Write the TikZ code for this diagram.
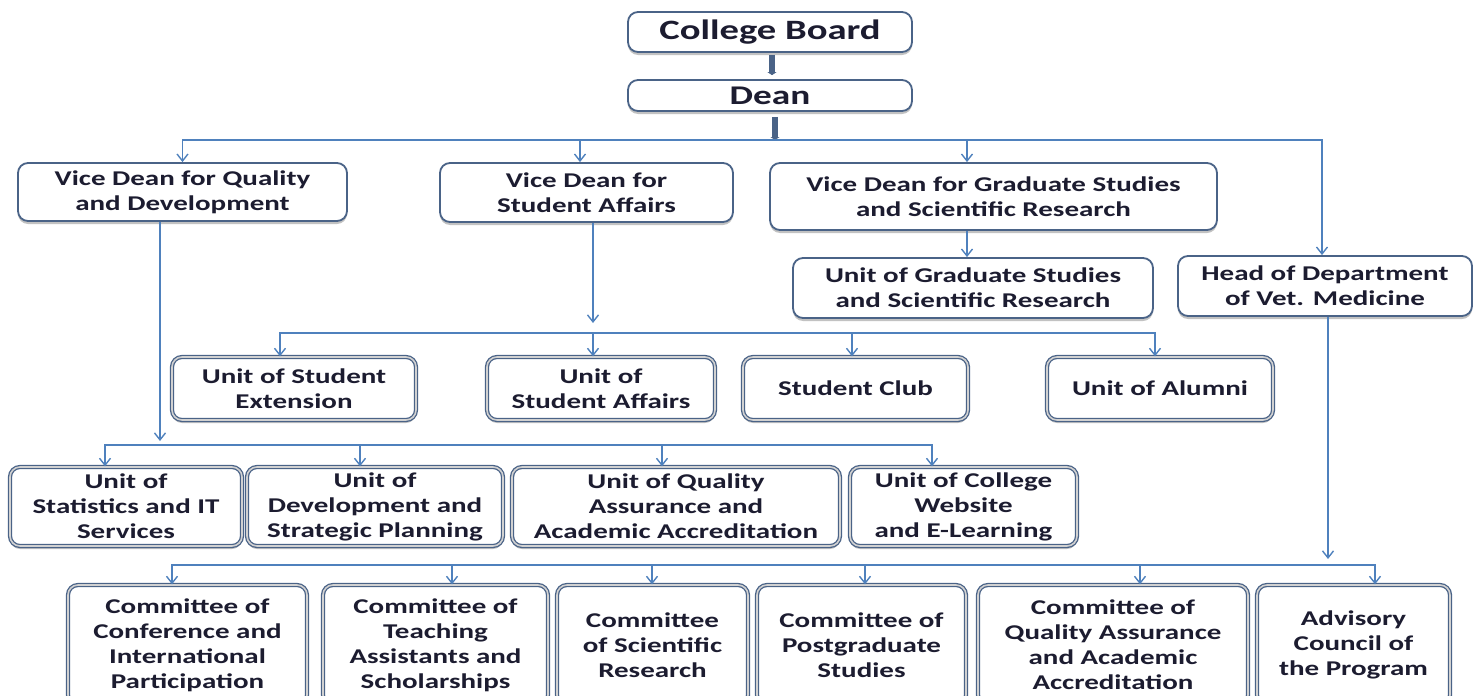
\documentclass[tikz,border=0pt]{standalone}
\usepackage{fontspec}
\setmainfont{Carlito}[FakeStretch=1.38]
\usetikzlibrary{arrows.meta,shadows}
\definecolor{arrblue}{HTML}{4F81BD}
\definecolor{boxline}{HTML}{4A6387}
\definecolor{txt}{HTML}{1C1C30}
\tikzset{
 box/.style={draw=boxline, line width=1.8pt, rounded corners=10pt, fill=white, align=center, text=txt,
   font=\bfseries\fontsize{21}{25}\selectfont, inner sep=0pt,
   drop shadow={shadow xshift=0pt, shadow yshift=-3pt, fill=black!40, opacity=0.6}},
 dbox/.style={box, double=black!18, double distance=1.6pt, line width=1.3pt},
 conn/.style={draw=arrblue, line width=1.6pt},
 arr/.style={conn, -{Straight Barb[length=7pt,width=11pt,line width=1.4pt]}},
 stub/.style={draw=boxline, line width=6pt, -{Triangle[length=3pt,width=9pt]}},
}
\begin{document}
\begin{tikzpicture}[x=1pt,y=-1pt]
\useasboundingbox (0,0) rectangle (1478,696);
\clip (0,0) rectangle (1478,696);
% top
\node[box, minimum width=284pt, minimum height=40pt, font=\bfseries\fontsize{28}{30}\selectfont] (cb) at (770,32) {College Board};
\node[box, minimum width=284pt, minimum height=31pt, font=\bfseries\fontsize{27}{29}\selectfont] (dean) at (770,95.5) {Dean};
% vice deans
\node[box, minimum width=329pt, minimum height=58pt] (vdq) at (182.5,192) {Vice Dean for Quality\\and Development};
\node[box, minimum width=293pt, minimum height=59pt] (vds) at (586.5,192.5) {Vice Dean for\\Student Affairs};
\node[box, minimum width=447pt, minimum height=67pt] (vdg) at (993.5,196.5) {Vice Dean for Graduate Studies\\and Scientific Research};
\node[box, minimum width=360pt, minimum height=60pt] (ugs) at (973,288) {Unit of Graduate Studies\\and Scientific Research};
\node[box, minimum width=294pt, minimum height=60pt] (hod) at (1325,286) {Head of Department\\of Vet. Medicine};
% student row
\node[dbox, minimum width=244pt, minimum height=63pt] (use) at (294,388.5) {Unit of Student\\Extension};
\node[dbox, minimum width=228pt, minimum height=63pt] (usa) at (601,388.5) {Unit of\\Student Affairs};
\node[dbox, minimum width=225pt, minimum height=63pt] (sc) at (855.5,388.5) {Student Club};
\node[dbox, minimum width=226pt, minimum height=63pt] (ua) at (1160,388.5) {Unit of Alumni};
% unit row
\node[dbox, minimum width=232pt, minimum height=79pt] (ust) at (126,506.5) {Unit of\\Statistics and IT\\Services};
\node[dbox, minimum width=256pt, minimum height=79pt] (udv) at (375,506.5) {Unit of\\Development and\\Strategic Planning};
\node[dbox, minimum width=328pt, minimum height=79pt] (uqa) at (676,506.5) {Unit of Quality\\Assurance and\\Academic Accreditation};
\node[dbox, minimum width=227pt, minimum height=79pt] (uwb) at (963.5,506.5) {Unit of College\\Website\\and E-Learning};
% committees
\node[dbox, minimum width=239pt, minimum height=120pt] (c1) at (187.5,645) {Committee of\\Conference and\\International\\Participation};
\node[dbox, minimum width=225pt, minimum height=120pt] (c2) at (435.5,645) {Committee of\\Teaching\\Assistants and\\Scholarships};
\node[dbox, minimum width=191pt, minimum height=120pt] (c3) at (652.5,645) {Committee\\of Scientific\\Research};
\node[dbox, minimum width=209pt, minimum height=120pt] (c4) at (861.5,645) {Committee of\\Postgraduate\\Studies};
\node[dbox, minimum width=270pt, minimum height=120pt] (c5) at (1113,645) {Committee of\\Quality Assurance\\and Academic\\Accreditation};
\node[dbox, minimum width=193pt, minimum height=120pt] (c6) at (1353.5,645) {Advisory\\Council of\\the Program};
% connectors
\coordinate (bus0) at (775,140);
\draw[stub, shorten <=2pt, shorten >=4pt] ([xshift=2pt]cb.south) -- ([xshift=2pt]dean.north);
\draw[stub, shorten <=5pt] ([xshift=5pt]dean.south) -- (bus0);
\draw[arr] (bus0) -| (vdq.north);
\draw[arr] (bus0) -| ([xshift=-3pt]hod.north);
\draw[arr] ([xshift=-6.5pt]vds.north |- bus0) -- ([xshift=-6.5pt]vds.north);
\draw[arr] ([xshift=-26.5pt]vdg.north |- bus0) -- ([xshift=-26.5pt]vdg.north);
\draw[arr] ([xshift=-26.5pt]vdg.south) -- ([xshift=-6pt]ugs.north);
% student bus
\coordinate (sbus) at (593,333);
\draw[arr] ([xshift=6.5pt]vds.south) -- ([yshift=10pt]sbus);
\draw[arr] (sbus) -| ([xshift=-14pt]use.north);
\draw[arr] (sbus) -- ([xshift=-8pt]usa.north);
\draw[arr] (sbus) -| ([xshift=-3.5pt]sc.north);
\draw[arr] (sbus) -| ([xshift=-5pt]ua.north);
% unit bus
\coordinate (ubus) at (160,445);
\draw[arr] ([xshift=-22.5pt]vdq.south) -- ([yshift=4pt]ubus);
\draw[arr] (ubus) -| ([xshift=-21pt]ust.north);
\draw[arr] (ubus) -| ([xshift=-15pt]udv.north);
\draw[arr] (ubus) -| ([xshift=-14pt]uqa.north);
\draw[arr] (ubus) -| ([xshift=-31.5pt]uwb.north);
% committee bus
\coordinate (bbus) at (1328,565);
\draw[arr] ([xshift=3pt]hod.south) -- ([yshift=6pt]bbus);
\draw[arr] (bbus) -| ([xshift=-15.5pt]c1.north);
\draw[arr] (bbus) -| ([xshift=16.5pt]c2.north);
\draw[arr] (bbus) -| ([xshift=-0.5pt]c3.north);
\draw[arr] (bbus) -| ([xshift=3.5pt]c4.north);
\draw[arr] (bbus) -| ([xshift=27pt]c5.north);
\draw[arr] (bbus) -| ([xshift=21.5pt]c6.north);
\end{tikzpicture}
\end{document}
